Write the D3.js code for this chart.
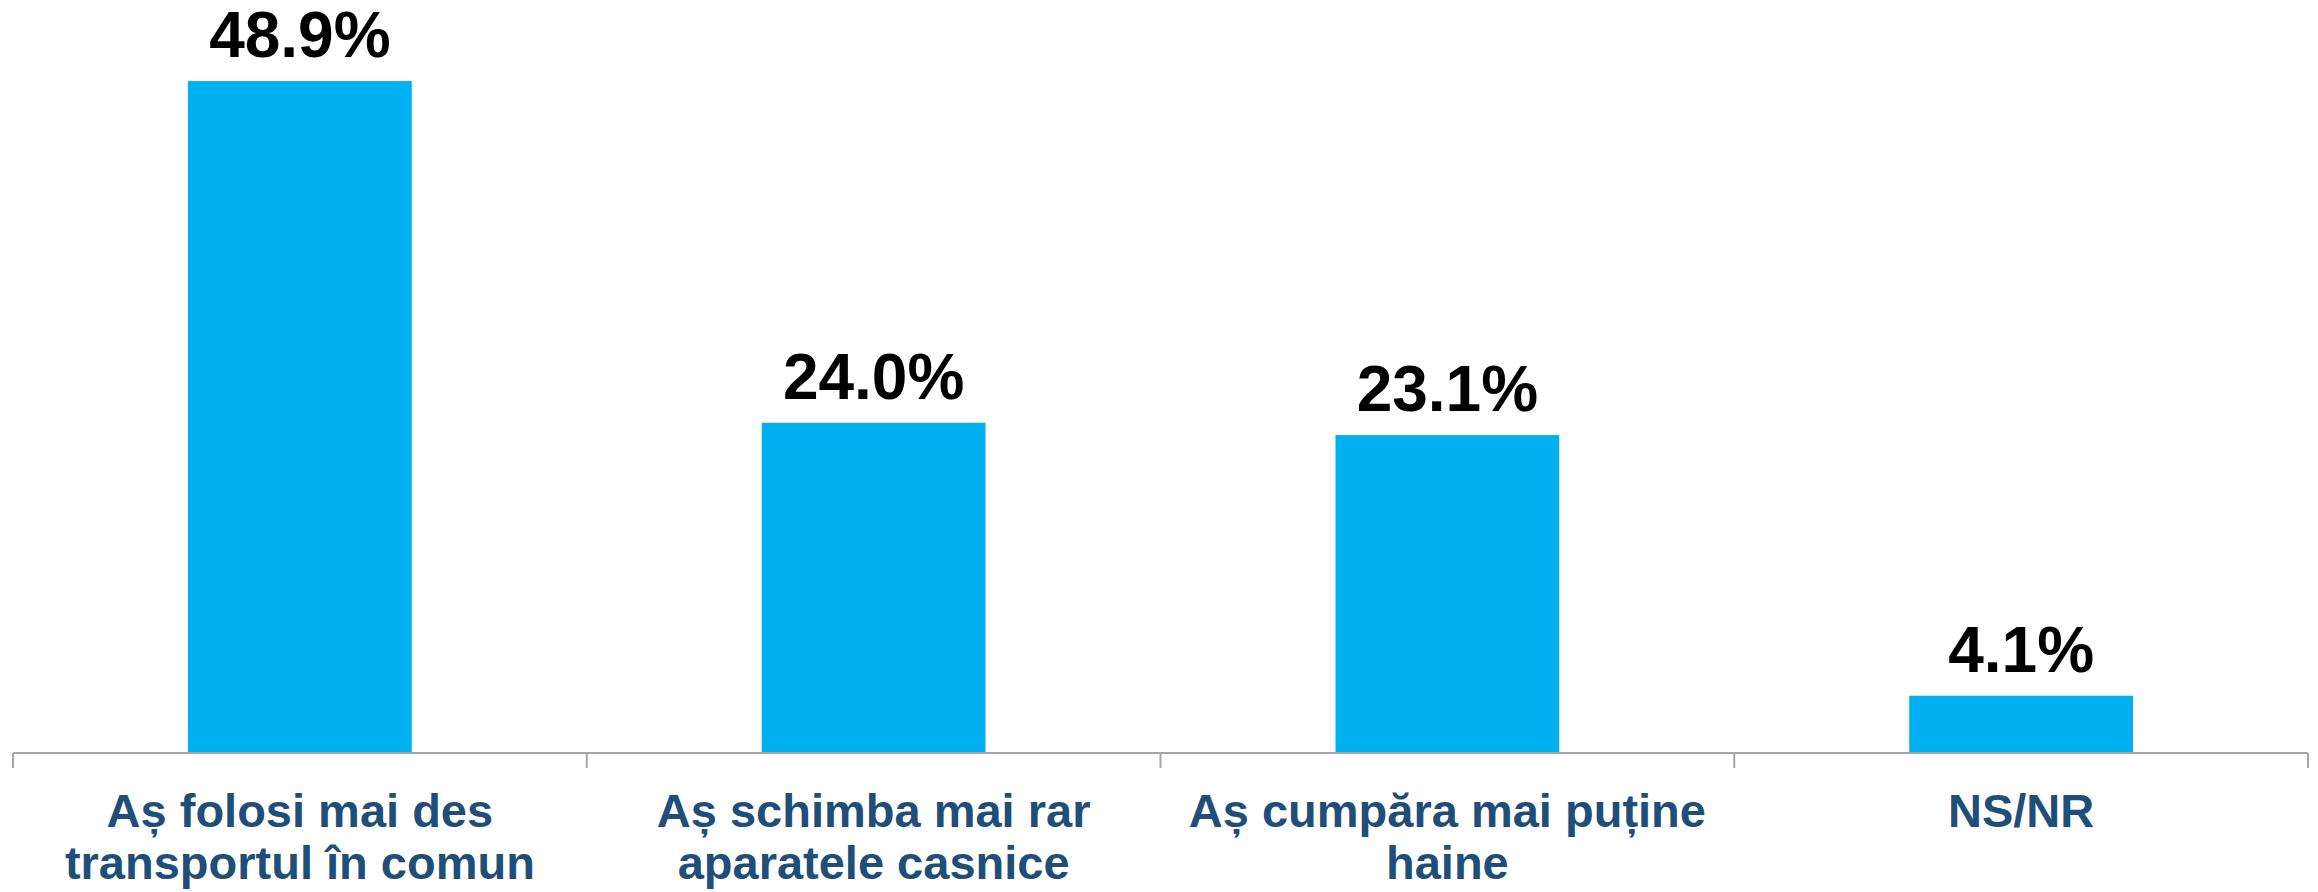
<html>
<head>
<meta charset="utf-8">
<script src="https://d3js.org/d3.v7.min.js"></script>
<style>
body { margin: 0; background: #fff; }
svg { display: block; font-family: 'Liberation Sans', Arial, sans-serif; }
.bar { fill: #00B0F0; }
.value { font-size: 64px; font-weight: bold; fill: #000; }
.cat { font-size: 47px; font-weight: bold; fill: #1F4E79; }
.axis line { stroke: #A6A6A6; stroke-width: 2; }
</style>
</head>
<body>
<svg></svg>
<script>

var width = 2318,
    height = 892;

// data
var categories = ['folosi', 'schimba', 'cumpara', 'nsnr'];
var categoryLines = [
  ['Aș folosi mai des', 'transportul în comun'],
  ['Aș schimba mai rar', 'aparatele casnice'],
  ['Aș cumpăra mai puține', 'haine'],
  ['NS/NR']
];
var values = [48.9, 24.0, 23.1, 4.1];

var svg = d3.select('svg')
  .attr('width', width)
  .attr('height', height);

// scales
var x = d3.scaleBand()
  .domain(categories)
  .range([13, 2308])
  .paddingInner(0.61)
  .paddingOuter(0.305);

// boundaries between categories for the ticks
var xb = d3.scaleBand()
  .domain(categories)
  .range([13, 2308])
  .padding(0);

var y = d3.scaleLinear()
  .domain([0, 50])
  .range([752, 66]);

// bars
svg.selectAll('rect.bar')
    .data(values)
  .enter().append('rect')
    .attr('class', 'bar')
    .attr('x', function(d, i) { return x(categories[i]); })
    .attr('width', x.bandwidth())
    .attr('y', function(d) { return y(d); })
    .attr('height', function(d) { return y(0) - y(d); });

// axis line and ticks
var axis = svg.append('g').attr('class', 'axis');
var ticks = categories.map(function(c) { return xb(c); }).concat([xb.range()[1]]);

axis.append('line')
  .attr('x1', xb.range()[0])
  .attr('x2', xb.range()[1])
  .attr('y1', y(0) + 1)
  .attr('y2', y(0) + 1);

axis.selectAll('line.tick')
    .data(ticks)
  .enter().append('line')
    .attr('class', 'tick')
    .attr('x1', function(d) { return d; })
    .attr('x2', function(d) { return d; })
    .attr('y1', y(0) + 1)
    .attr('y2', y(0) + 16);

// value labels
var fmt = d3.format('.1f');
svg.selectAll('text.value')
    .data(values)
  .enter().append('text')
    .attr('class', 'value')
    .attr('text-anchor', 'middle')
    .attr('x', function(d, i) { return x(categories[i]) + x.bandwidth() / 2; })
    .attr('y', function(d) { return y(d) - 24; })
    .text(function(d) { return fmt(d) + '%'; });

// category labels
var cats = svg.selectAll('text.cat')
    .data(categoryLines)
  .enter().append('text')
    .attr('class', 'cat')
    .attr('text-anchor', 'middle')
    .attr('x', function(d, i) { return x(categories[i]) + x.bandwidth() / 2; })
    .attr('y', 827);

cats.selectAll('tspan')
    .data(function(d) { return d; })
  .enter().append('tspan')
    .attr('x', function() { return d3.select(this.parentNode).attr('x'); })
    .attr('dy', function(d, i) { return i === 0 ? 0 : 52; })
    .text(function(d) { return d; });

</script>
</body>
</html>
